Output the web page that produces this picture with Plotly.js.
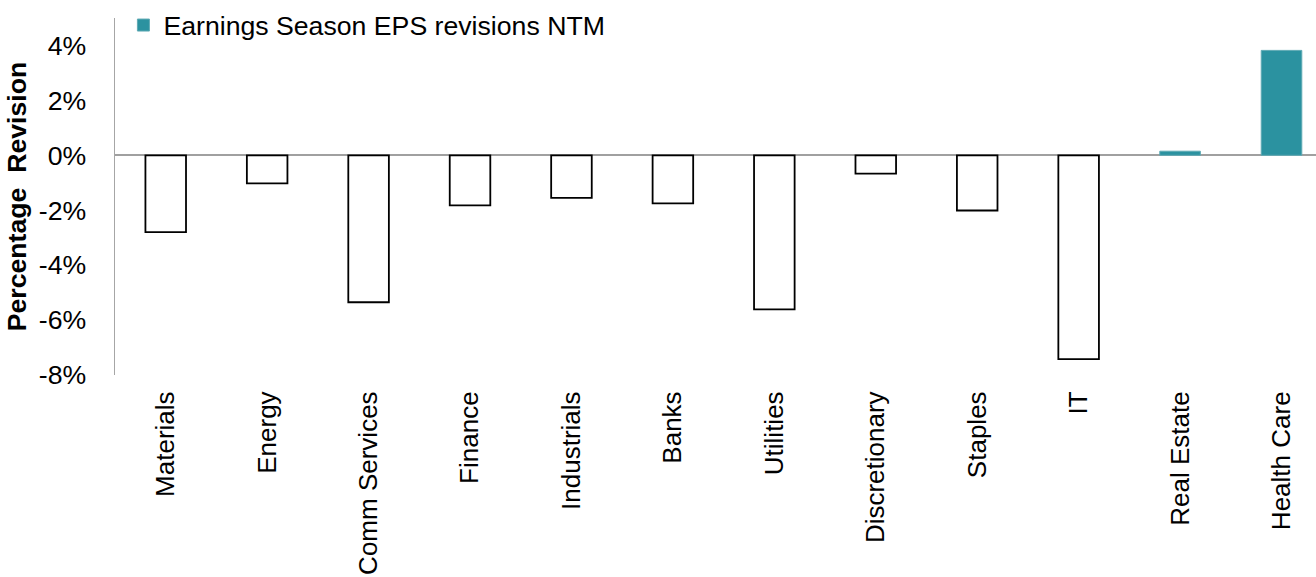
<!DOCTYPE html>
<html>
<head>
<meta charset="utf-8">
<script src="https://cdn.plot.ly/plotly-3.0.1.min.js"></script>
<style>
  html, body { margin: 0; padding: 0; background: #fff; }
  #chart { width: 1316px; height: 577px; }
</style>
</head>
<body>
<div id="chart"></div>
<script>
// ---- data ----
const categories = ["Materials", "Energy", "Comm Services", "Finance", "Industrials", "Banks",
                    "Utilities", "Discretionary", "Staples", "IT", "Real Estate", "Health Care"];
const epsRevisions = [-2.80, -1.02, -5.35, -1.82, -1.55, -1.75, -5.61, -0.67, -2.01, -7.42, 0.15, 3.82];
const seriesName = "Earnings Season EPS revisions NTM";
const yTickVals = [-8, -6, -4, -2, 0, 2, 4];
const yTickText = ["-8%", "-6%", "-4%", "-2%", "0%", "2%", "4%"];

const FONT = "Arial, 'Liberation Sans', sans-serif";
const FS = 26.67;
const TEAL = "#2B92A0";

// split by sign: negatives are hollow outlined bars, positives are teal
const negY = epsRevisions.map(v => (v < 0 ? v : null));
const posY = epsRevisions.map(v => (v >= 0 ? v : null));

const traces = [
  {
    type: "bar", x: categories, y: negY, width: 0.4,
    marker: { color: "#FFFFFF", line: { color: "#000000", width: 1.8 } },
    showlegend: false, hoverinfo: "x+y"
  },
  {
    type: "bar", x: categories, y: posY, width: 0.4, name: seriesName,
    marker: { color: TEAL, line: { color: "#5FAAB4", width: 1 } },
    hoverinfo: "x+y"
  }
];

const layout = {
  width: 1316, height: 577,
  margin: { l: 115, r: 0, t: 18, b: 202, pad: 0 },
  paper_bgcolor: "#FFFFFF", plot_bgcolor: "#FFFFFF",
  barmode: "overlay",
  font: { family: FONT, size: FS, color: "#000000" },
  showlegend: true,
  legend: {
    x: 0.007, xanchor: "left", y: 1.047, yanchor: "top",
    font: { family: FONT, size: FS, color: "#000000" },
    bgcolor: "rgba(0,0,0,0)", borderwidth: 0
  },
  xaxis: {
    type: "category", categoryorder: "array", categoryarray: categories,
    range: [-0.5, 11.34], fixedrange: true,
    showline: false, showgrid: false, zeroline: false,
    ticks: "outside", ticklen: 5, tickcolor: "rgba(0,0,0,0)",
    tickangle: -90, automargin: false,
    tickfont: { family: FONT, size: 26, color: "#000000" }
  },
  yaxis: {
    range: [-8, 5], fixedrange: true,
    tickvals: yTickVals, ticktext: yTickText,
    showgrid: false,
    showline: true, linecolor: "#A6A6A6", linewidth: 1.5,
    zeroline: true, zerolinecolor: "#A0A0A0", zerolinewidth: 2,
    ticks: "outside", ticklen: 22, tickcolor: "rgba(0,0,0,0)",
    layer: "above traces", automargin: false,
    tickfont: { family: FONT, size: FS, color: "#000000" },
    title: {
      text: "Percentage\u00A0 Revision",
      font: { family: FONT, size: FS, color: "#000000", weight: "bold" },
      standoff: 4
    }
  }
};

Plotly.newPlot("chart", traces, layout, { displayModeBar: false, staticPlot: true });
</script>
</body>
</html>
